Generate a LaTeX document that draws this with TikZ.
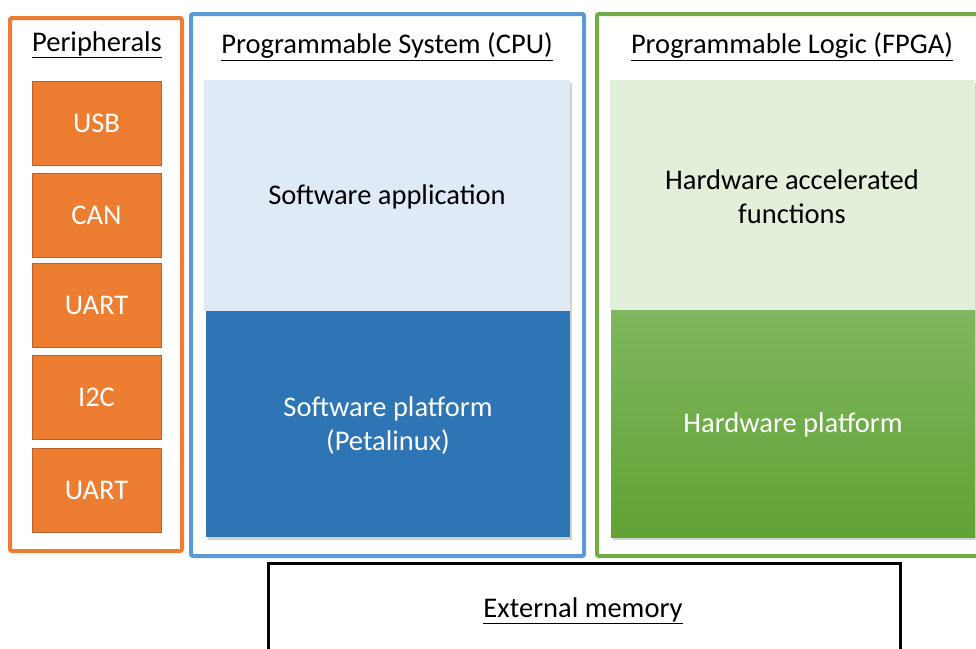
\documentclass[tikz,border=0pt]{standalone}
\usepackage{fontspec}
\setmainfont{Carlito}
\usetikzlibrary{shadows}
\definecolor{orangeF}{HTML}{ED7D31}
\definecolor{orangeD}{HTML}{B8622A}
\definecolor{blueF}{HTML}{5B9BD5}
\definecolor{blueD}{HTML}{2E75B6}
\definecolor{blueL}{HTML}{DEEBF7}
\definecolor{greenF}{HTML}{70AD47}
\definecolor{greenL}{HTML}{E2EFDA}
\definecolor{greenT}{HTML}{7EB75E}
\definecolor{greenB}{HTML}{62A235}
\tikzset{
  frame/.style={line width=4pt, rounded corners=2pt, fill=white},
  periph/.style={draw=orangeD, line width=0.8pt, fill=orangeF, text=white, font=\fontsize{28.5}{34}\selectfont},
  inner/.style={drop shadow={shadow xshift=1.5pt, shadow yshift=-2.5pt, opacity=0.35}},
  ttl/.style={font=\fontsize{28.5}{34}\selectfont},
  lbl/.style={font=\fontsize{28.5}{34}\selectfont, align=center}
}
\begin{document}
\begin{tikzpicture}[x=1pt,y=-1pt]
\useasboundingbox (0,0) rectangle (976,648);
\clip (0,0) rectangle (976,648);
% outer frames
\draw[frame, draw=orangeF] (10,18) rectangle (182,551);
\draw[frame, draw=blueF] (191,14) rectangle (584,556);
\draw[frame, draw=greenF] (597,14) rectangle (990,556);
\draw[line width=3pt, fill=white] (268,563) rectangle (900,670);
% titles
\node[ttl] (tper) at (97,45) {\underline{Peripherals}};
\node[ttl] (tcpu) at (387,47) {\underline{Programmable System (CPU)}};
\node[ttl] (tfpga) at (792,47) {\underline{Programmable Logic (FPGA)}};
\node[ttl] (tmem) at (583,611) {\underline{External memory}};
% peripherals
\node[periph, minimum width=129pt, minimum height=84pt] (usb) at (96.5,123) {USB};
\node[periph, minimum width=129pt, minimum height=84pt] (can) at (96.5,215) {CAN};
\node[periph, minimum width=129pt, minimum height=84pt] (uart1) at (96.5,305) {UART};
\node[periph, minimum width=129pt, minimum height=84pt] (i2c) at (96.5,397) {I2C};
\node[periph, minimum width=129pt, minimum height=84pt] (uart2) at (96.5,490) {UART};
% CPU inner
\fill[inner, fill=blueD] (206,311) rectangle (570,537);
\fill[inner, fill=blueL] (204,80) rectangle (570,311);
\fill[blueD] (206,311) rectangle (570,537);
\node[lbl] (swapp) at (387,197) {Software application};
\node[lbl, text=white] (swplat) at (388,426) {Software platform\\(Petalinux)};
% FPGA inner
\fill[inner, fill=greenB] (611,310) rectangle (975,537);
\fill[inner, fill=greenL] (610,80) rectangle (975,310);
\shade[top color=greenT, bottom color=greenB] (611,310) rectangle (975,537);
\node[lbl] (hwacc) at (792,197) {Hardware accelerated\\functions};
\node[lbl, text=white] (hwplat) at (793,425) {Hardware platform};
\end{tikzpicture}
\end{document}
